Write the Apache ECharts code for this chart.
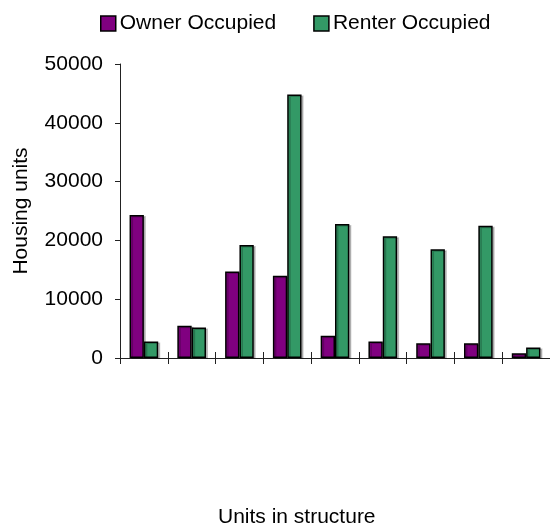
<!DOCTYPE html>
<html>
<head>
<meta charset="utf-8">
<script src="https://cdn.jsdelivr.net/npm/echarts@6/dist/echarts.min.js"></script>
<style>
  html, body { margin: 0; padding: 0; background: #fff; }
  #chart { width: 550px; height: 527px; }
</style>
</head>
<body>
<div id="chart"></div>
<script>
// category keys only (the original chart shows no category labels)
const categories = ['1', '2', '3', '4', '5', '6', '7', '8', '9'];
const ownerOccupied = [24300, 5500, 14700, 14000, 3800, 2800, 2500, 2500, 800];
const renterOccupied = [2800, 5200, 19200, 44800, 22800, 20700, 18500, 22500, 1800];
const yTicks = { min: 0, max: 50000, interval: 10000 };

const FONT = '"Liberation Sans", Arial, sans-serif';

const chart = echarts.init(document.getElementById('chart'));

const barStyle = (color) => ({
  color: color,
  borderColor: '#000',
  borderWidth: 1.5,
  shadowColor: 'rgba(0,0,0,0.22)',
  shadowOffsetX: 2,
  shadowOffsetY: 1,
  shadowBlur: 0
});

const option = {
  animation: false,
  textStyle: { fontFamily: FONT, color: '#000' },
  title: {
    text: 'Units in structure',
    left: 218,
    top: 507,
    padding: 0,
    textStyle: { fontFamily: FONT, fontSize: 21, fontWeight: 'normal', color: '#000' }
  },
  legend: {
    data: ['Owner Occupied', 'Renter Occupied'],
    left: 100,
    top: 13,
    padding: 0,
    icon: 'rect',
    itemWidth: 15,
    itemHeight: 15,
    itemGap: 37,
    textStyle: { fontFamily: FONT, fontSize: 21, color: '#000', padding: [0, 0, 0, -1] },
    itemStyle: { borderColor: '#000', borderWidth: 1.5, shadowColor: 'transparent' }
  },
  grid: { left: 120, right: -1, top: 64, bottom: 169 },
  xAxis: [
    {
      type: 'category',
      data: categories,
      boundaryGap: true,
      axisLine: { lineStyle: { color: '#222', width: 1 } },
      axisTick: { show: false },
      axisLabel: { show: false }
    },
    {
      // shifted copy of the axis so its ticks cross the axis line
      type: 'category',
      data: categories,
      position: 'bottom',
      offset: -6,
      boundaryGap: true,
      axisLine: { show: false },
      axisTick: { show: true, length: 12, lineStyle: { color: '#222' } },
      axisLabel: { show: false }
    }
  ],
  yAxis: {
    type: 'value',
    min: yTicks.min,
    max: yTicks.max,
    interval: yTicks.interval,
    name: 'Housing units',
    nameLocation: 'middle',
    nameGap: 88,
    nameTextStyle: { fontFamily: FONT, fontSize: 21, color: '#000' },
    axisLine: { show: true, lineStyle: { color: '#222', width: 1 } },
    axisTick: { show: true, length: 5, lineStyle: { color: '#222' } },
    axisLabel: {
      fontFamily: FONT,
      fontSize: 21,
      color: '#000',
      margin: 17,
      formatter: (v) => String(v)
    },
    splitLine: { show: false }
  },
  series: [
    {
      name: 'Owner Occupied',
      type: 'bar',
      xAxisIndex: 0,
      data: ownerOccupied,
      barGap: 0,
      barCategoryGap: '40%',
      itemStyle: barStyle('#800080')
    },
    {
      name: 'Renter Occupied',
      type: 'bar',
      xAxisIndex: 0,
      data: renterOccupied,
      barGap: 0,
      barCategoryGap: '40%',
      itemStyle: barStyle('#339966')
    }
  ]
};

chart.setOption(option);
</script>
</body>
</html>
